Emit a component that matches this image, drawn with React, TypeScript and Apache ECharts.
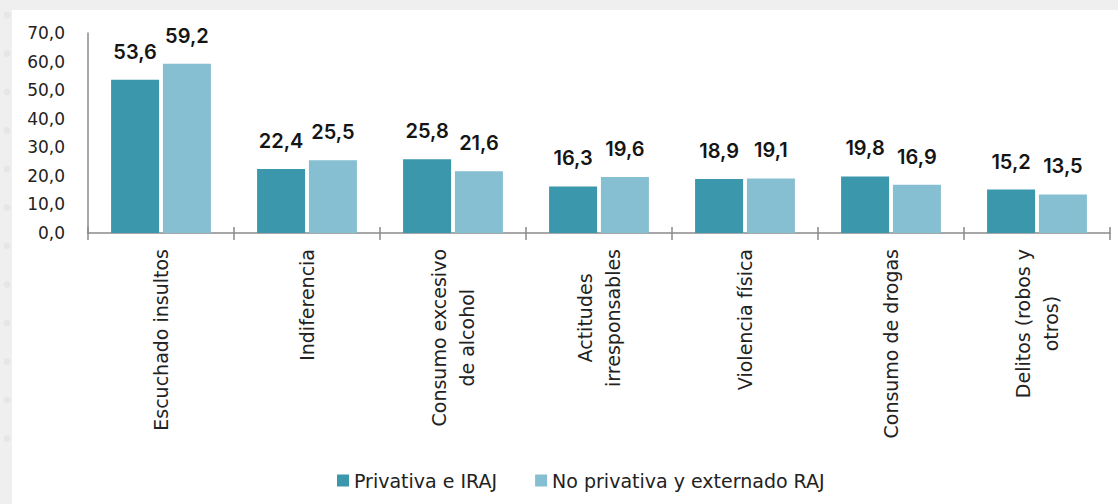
import React, { useEffect, useRef } from "react";
import * as echarts from "echarts";

const categories = [
  "Escuchado insultos",
  "Indiferencia",
  "Consumo excesivo\nde alcohol",
  "Actitudes\nirresponsables",
  "Violencia física",
  "Consumo de drogas",
  "Delitos (robos y\notros)",
];
const seriesNames = ["Privativa e IRAJ", "No privativa y externado RAJ"];
const privativa = [53.6, 22.4, 25.8, 16.3, 18.9, 19.8, 15.2];
const noPrivativa = [59.2, 25.5, 21.6, 19.6, 19.1, 16.9, 13.5];
const yMin = 0;
const yMax = 70;
const yStep = 10;

const colors = ["#3B97AC", "#85BFD1"];
const fmt = (v: number) => v.toFixed(1).replace(".", ",");
const FONT = "DejaVu Sans";

export default function App() {
  const ref = useRef<HTMLDivElement>(null);
  useEffect(() => {
    if (!ref.current) return;
    const chart = echarts.init(ref.current, undefined, { renderer: "svg" });
    const dots: any[] = [];
    for (let i = 0; i < 12; i++) {
      dots.push({
        type: "circle",
        silent: true,
        z: -9,
        shape: { cx: 7, cy: 15 + i * 38.5, r: 3.5 },
        style: { fill: "#e6e6e6" },
      });
    }
    const labelStyle = {
      show: true,
      position: "top",
      distance: 18,
      fontFamily: "Inter",
      fontSize: 20,
      fontWeight: 600,
      color: "#151515",
      formatter: (p: any) => fmt(p.value),
    };
    chart.setOption({
      animation: false,
      backgroundColor: "#efefef",
      color: colors,
      graphic: [
        ...dots,
        {
          type: "rect",
          silent: true,
          z: -8,
          shape: { x: 12, y: 10, width: 1118, height: 504 },
          style: { fill: "#ffffff" },
        },
      ],
      grid: { left: 88, right: 8, top: 33, bottom: 271, containLabel: false },
      legend: {
        bottom: 9,
        left: 332,
        itemWidth: 12,
        itemHeight: 12,
        itemGap: 38,
        icon: "rect",
        textStyle: { fontFamily: FONT, fontSize: 19, color: "#222" },
        data: seriesNames,
      },
      xAxis: [
        {
          type: "category",
          data: categories,
          position: "bottom",
          axisLine: { lineStyle: { color: "#8a8a8a", width: 1.5 } },
          axisTick: { show: true, length: 7, lineStyle: { color: "#8a8a8a", width: 1.5 } },
          axisLabel: {
            rotate: 90,
            margin: 16,
            interval: 0,
            fontFamily: FONT,
            fontSize: 19,
            color: "#222",
            lineHeight: 28,
            formatter: (v: string) =>
              v
                .split("\n")
                .map((l) => "{c|" + l + "}")
                .join("\n"),
            rich: {
              c: {
                align: "center",
                fontFamily: FONT,
                fontSize: 19,
                color: "#222",
                lineHeight: 28,
              },
            },
          },
        },
        {
          type: "category",
          data: categories,
          position: "top",
          offset: -200,
          axisLine: { show: false },
          axisTick: { show: true, length: 6, lineStyle: { color: "#8a8a8a", width: 1.5 } },
          axisLabel: { show: false },
        },
      ],
      yAxis: {
        type: "value",
        min: yMin,
        max: yMax,
        interval: yStep,
        axisLine: { show: true, lineStyle: { color: "#8a8a8a", width: 1.5 } },
        axisTick: { show: false },
        splitLine: { show: false },
        axisLabel: {
          margin: 23,
          fontFamily: FONT,
          fontSize: 17,
          color: "#222",
          formatter: (v: number) => fmt(v),
        },
      },
      series: [
        {
          name: seriesNames[0],
          type: "bar",
          data: privativa,
          barWidth: 48,
          barGap: "8%",
          label: labelStyle,
        },
        {
          name: seriesNames[1],
          type: "bar",
          data: noPrivativa,
          barWidth: 48,
          barGap: "8%",
          label: labelStyle,
        },
      ],
    });
    return () => chart.dispose();
  }, []);
  return (
    <div
      ref={ref}
      style={{ position: "absolute", left: 0, top: 0, width: 1118, height: 504 }}
    />
  );
}
